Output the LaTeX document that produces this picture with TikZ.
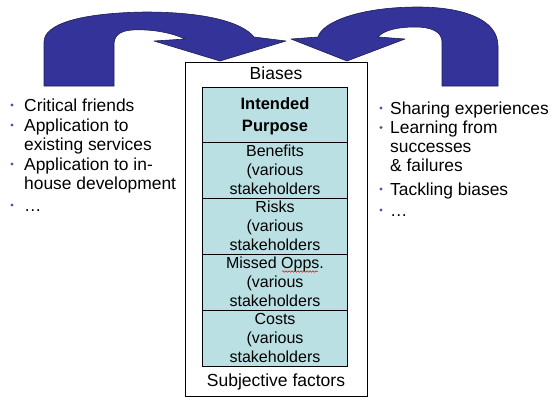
\documentclass[tikz,border=0pt]{standalone}
\usepackage{fontspec}
\setmainfont{Liberation Sans}
\usetikzlibrary{decorations.pathmorphing}
\definecolor{arrowblue}{RGB}{51,51,153}
\definecolor{arrowedge}{RGB}{30,30,80}
\definecolor{boxteal}{RGB}{187,224,227}
\definecolor{bulletblue}{RGB}{80,80,180}
\begin{document}
\begin{tikzpicture}[x=1pt,y=-1pt,
  uarrow/.style={fill=arrowblue, draw=arrowedge, line width=0.6pt, line join=round},
  outerbox/.style={draw=black, line width=0.8pt, fill=white, inner sep=0, minimum width=182pt, minimum height=334pt},
  section/.style={draw=black, fill=boxteal, line width=0.8pt, minimum width=145pt, inner sep=0, align=center, font=\fontsize{16}{19}\selectfont},
  headtxt/.style={inner sep=0, font=\fontsize{17.5}{20}\selectfont},
  listtxt/.style={inner sep=0, anchor=base west, font=\fontsize{17.4}{20}\selectfont},
  bul/.style={circle, fill=bulletblue, inner sep=0, minimum size=3.2pt}
]
\useasboundingbox (0,0) rectangle (553,410);

% central box
\node[outerbox] (outer) at (276,229) {};
\node[section, minimum height=55pt] (purpose) at (275,114.5) {};
\node[inner sep=0, align=center, font=\bfseries\fontsize{16.5}{22}\selectfont] (purposetxt) at (275,116.5) {Intended\\Purpose};
\node[section, minimum height=56pt] (benefits) at (275,170) {Benefits\\(various\\stakeholders};
\node[section, minimum height=56pt] (risks) at (275,226) {Risks\\(various\\stakeholders};
\node[section, minimum height=56pt] (missed) at (275,282) {Missed Opps.\\(various\\stakeholders};
\node[section, minimum height=56pt] (costs) at (275,338) {Costs\\(various\\stakeholders};
\node[headtxt] (biases) at (276,73) {Biases};
\node[headtxt] (subj) at (276,382) {Subjective factors};
\coordinate (sq1) at (282,271.5);
\coordinate (sq2) at (318,271.5);
\draw[red, line width=0.5pt, decorate, decoration={snake, amplitude=0.8pt, segment length=3pt}] (sq1) -- (sq2);

% left U-turn arrow
\draw[uarrow] (44,86) -- (44,42)
  .. controls (44,24) and (80,13) .. (145,12)
  .. controls (205,12) and (242,22) .. (254,37)
  -- (286,41) -- (220,61) -- (154,41) -- (185,39)
  .. controls (170,32) and (150,29) .. (132,30)
  .. controls (119,31) and (114,36) .. (114,45)
  -- (114,86) -- cycle;

% right U-turn arrow
\draw[uarrow] (498,86) -- (498,46)
  .. controls (498,18) and (460,7) .. (418,7)
  .. controls (360,7) and (322,22) .. (318,37)
  -- (291,39) -- (347,61) -- (405,39) -- (378,37)
  .. controls (384,30) and (398,27) .. (415,27)
  .. controls (432,27) and (442,32) .. (442,42)
  -- (442,86) -- cycle;

% left list
\node[listtxt] (l1) at (24,111) {Critical friends};
\node[listtxt] (l2) at (24,131) {Application to};
\node[listtxt] (l3) at (24,150) {existing services};
\node[listtxt] (l4) at (24,170) {Application to in-};
\node[listtxt] (l5) at (24,189) {house development};
\node[listtxt] (l6) at (24,211) {\dots};
\node[bul] (lb1) at (12,105) {};
\node[bul] (lb2) at (12,125) {};
\node[bul] (lb3) at (12,164) {};
\node[bul] (lb4) at (12,205) {};

% right list
\node[listtxt] (r1) at (390,114) {Sharing experiences};
\node[listtxt] (r2) at (390,133.5) {Learning from};
\node[listtxt] (r3) at (390,152.5) {successes};
\node[listtxt] (r4) at (390,171.5) {\& failures};
\node[listtxt] (r5) at (390,195) {Tackling biases};
\node[listtxt] (r6) at (390,216) {\dots};
\node[bul] (rb1) at (381,108) {};
\node[bul] (rb2) at (381,127.5) {};
\node[bul] (rb3) at (381,189) {};
\node[bul] (rb4) at (381,210) {};
\end{tikzpicture}
\end{document}
